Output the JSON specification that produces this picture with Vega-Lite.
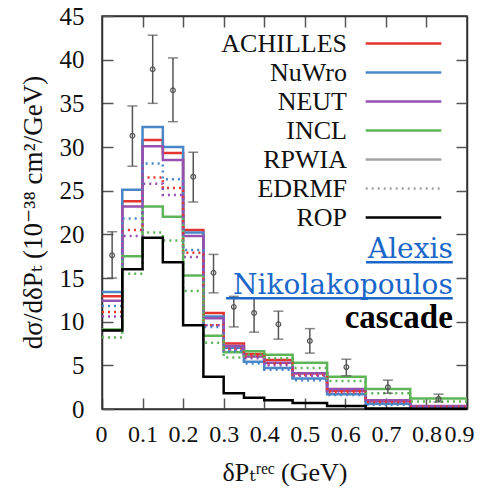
{
  "$schema": "https://vega.github.io/schema/vega-lite/v6.json",
  "width": 365,
  "height": 393,
  "autosize": "none",
  "padding": {"left": 102, "top": 16, "right": 14, "bottom": 87},
  "background": "white",
  "config": {
    "view": {"stroke": "#333", "strokeWidth": 1.5},
    "axis": {
      "grid": false,
      "domainColor": "#333",
      "domainWidth": 1.5,
      "tickColor": "#555",
      "tickWidth": 1.5,
      "tickSize": -11,
      "labelFont": "'Liberation Serif', 'DejaVu Serif', serif",
      "labelFontSize": 25,
      "labelColor": "#111",
      "titleFont": "'Liberation Serif', 'DejaVu Serif', serif",
      "titleFontSize": 26,
      "titleFontWeight": "normal",
      "titleColor": "#111"
    }
  },
  "datasets": {
    "h": [
      {"m": "ACHILLES", "d": "solid", "x": 0, "y": 12.9},
      {"m": "ACHILLES", "d": "solid", "x": 0.05, "y": 23.8},
      {"m": "ACHILLES", "d": "solid", "x": 0.1, "y": 30.8},
      {"m": "ACHILLES", "d": "solid", "x": 0.15, "y": 29.3},
      {"m": "ACHILLES", "d": "solid", "x": 0.2, "y": 20.5},
      {"m": "ACHILLES", "d": "solid", "x": 0.25, "y": 11.0},
      {"m": "ACHILLES", "d": "solid", "x": 0.3, "y": 7.5},
      {"m": "ACHILLES", "d": "solid", "x": 0.35, "y": 6.3},
      {"m": "ACHILLES", "d": "solid", "x": 0.4, "y": 5.6},
      {"m": "ACHILLES", "d": "solid", "x": 0.47, "y": 4.1},
      {"m": "ACHILLES", "d": "solid", "x": 0.555, "y": 2.1},
      {"m": "ACHILLES", "d": "solid", "x": 0.65, "y": 0.9},
      {"m": "ACHILLES", "d": "solid", "x": 0.76, "y": 0.3},
      {"m": "ACHILLES", "d": "solid", "x": 0.9, "y": 0.3},

      {"m": "NuWro", "d": "solid", "x": 0, "y": 13.4},
      {"m": "NuWro", "d": "solid", "x": 0.05, "y": 25.1},
      {"m": "NuWro", "d": "solid", "x": 0.1, "y": 32.3},
      {"m": "NuWro", "d": "solid", "x": 0.15, "y": 30.0},
      {"m": "NuWro", "d": "solid", "x": 0.2, "y": 20.2},
      {"m": "NuWro", "d": "solid", "x": 0.25, "y": 10.6},
      {"m": "NuWro", "d": "solid", "x": 0.3, "y": 7.0},
      {"m": "NuWro", "d": "solid", "x": 0.35, "y": 5.4},
      {"m": "NuWro", "d": "solid", "x": 0.4, "y": 4.7},
      {"m": "NuWro", "d": "solid", "x": 0.47, "y": 3.5},
      {"m": "NuWro", "d": "solid", "x": 0.555, "y": 1.7},
      {"m": "NuWro", "d": "solid", "x": 0.65, "y": 0.6},
      {"m": "NuWro", "d": "solid", "x": 0.76, "y": 0.2},
      {"m": "NuWro", "d": "solid", "x": 0.9, "y": 0.2},

      {"m": "NEUT", "d": "solid", "x": 0, "y": 12.4},
      {"m": "NEUT", "d": "solid", "x": 0.05, "y": 23.2},
      {"m": "NEUT", "d": "solid", "x": 0.1, "y": 30.1},
      {"m": "NEUT", "d": "solid", "x": 0.15, "y": 28.5},
      {"m": "NEUT", "d": "solid", "x": 0.2, "y": 19.8},
      {"m": "NEUT", "d": "solid", "x": 0.25, "y": 10.4},
      {"m": "NEUT", "d": "solid", "x": 0.3, "y": 7.2},
      {"m": "NEUT", "d": "solid", "x": 0.35, "y": 6.0},
      {"m": "NEUT", "d": "solid", "x": 0.4, "y": 5.3},
      {"m": "NEUT", "d": "solid", "x": 0.47, "y": 4.1},
      {"m": "NEUT", "d": "solid", "x": 0.555, "y": 2.3},
      {"m": "NEUT", "d": "solid", "x": 0.65, "y": 1.0},
      {"m": "NEUT", "d": "solid", "x": 0.76, "y": 0.35},
      {"m": "NEUT", "d": "solid", "x": 0.9, "y": 0.35},

      {"m": "INCL", "d": "solid", "x": 0, "y": 9.1},
      {"m": "INCL", "d": "solid", "x": 0.05, "y": 17.5},
      {"m": "INCL", "d": "solid", "x": 0.1, "y": 23.2},
      {"m": "INCL", "d": "solid", "x": 0.15, "y": 22.0},
      {"m": "INCL", "d": "solid", "x": 0.2, "y": 15.3},
      {"m": "INCL", "d": "solid", "x": 0.25, "y": 8.4},
      {"m": "INCL", "d": "solid", "x": 0.3, "y": 6.5},
      {"m": "INCL", "d": "solid", "x": 0.35, "y": 6.6},
      {"m": "INCL", "d": "solid", "x": 0.4, "y": 6.2},
      {"m": "INCL", "d": "solid", "x": 0.47, "y": 5.3},
      {"m": "INCL", "d": "solid", "x": 0.555, "y": 3.7},
      {"m": "INCL", "d": "solid", "x": 0.65, "y": 2.3},
      {"m": "INCL", "d": "solid", "x": 0.76, "y": 1.2},
      {"m": "INCL", "d": "solid", "x": 0.9, "y": 1.2},

      {"m": "ACHILLES", "d": "dotted", "x": 0, "y": 11.1},
      {"m": "ACHILLES", "d": "dotted", "x": 0.05, "y": 20.5},
      {"m": "ACHILLES", "d": "dotted", "x": 0.1, "y": 26.5},
      {"m": "ACHILLES", "d": "dotted", "x": 0.15, "y": 25.3},
      {"m": "ACHILLES", "d": "dotted", "x": 0.2, "y": 17.9},
      {"m": "ACHILLES", "d": "dotted", "x": 0.25, "y": 9.6},
      {"m": "ACHILLES", "d": "dotted", "x": 0.3, "y": 6.9},
      {"m": "ACHILLES", "d": "dotted", "x": 0.35, "y": 6.0},
      {"m": "ACHILLES", "d": "dotted", "x": 0.4, "y": 5.2},
      {"m": "ACHILLES", "d": "dotted", "x": 0.47, "y": 3.9},
      {"m": "ACHILLES", "d": "dotted", "x": 0.555, "y": 1.9},
      {"m": "ACHILLES", "d": "dotted", "x": 0.65, "y": 0.8},
      {"m": "ACHILLES", "d": "dotted", "x": 0.76, "y": 0.25},
      {"m": "ACHILLES", "d": "dotted", "x": 0.9, "y": 0.25},

      {"m": "NuWro", "d": "dotted", "x": 0, "y": 11.8},
      {"m": "NuWro", "d": "dotted", "x": 0.05, "y": 21.8},
      {"m": "NuWro", "d": "dotted", "x": 0.1, "y": 28.1},
      {"m": "NuWro", "d": "dotted", "x": 0.15, "y": 26.3},
      {"m": "NuWro", "d": "dotted", "x": 0.2, "y": 18.2},
      {"m": "NuWro", "d": "dotted", "x": 0.25, "y": 9.4},
      {"m": "NuWro", "d": "dotted", "x": 0.3, "y": 6.6},
      {"m": "NuWro", "d": "dotted", "x": 0.35, "y": 5.2},
      {"m": "NuWro", "d": "dotted", "x": 0.4, "y": 4.5},
      {"m": "NuWro", "d": "dotted", "x": 0.47, "y": 3.3},
      {"m": "NuWro", "d": "dotted", "x": 0.555, "y": 1.6},
      {"m": "NuWro", "d": "dotted", "x": 0.65, "y": 0.5},
      {"m": "NuWro", "d": "dotted", "x": 0.76, "y": 0.15},
      {"m": "NuWro", "d": "dotted", "x": 0.9, "y": 0.15},

      {"m": "NEUT", "d": "dotted", "x": 0, "y": 10.6},
      {"m": "NEUT", "d": "dotted", "x": 0.05, "y": 19.8},
      {"m": "NEUT", "d": "dotted", "x": 0.1, "y": 25.8},
      {"m": "NEUT", "d": "dotted", "x": 0.15, "y": 24.5},
      {"m": "NEUT", "d": "dotted", "x": 0.2, "y": 17.4},
      {"m": "NEUT", "d": "dotted", "x": 0.25, "y": 9.6},
      {"m": "NEUT", "d": "dotted", "x": 0.3, "y": 6.8},
      {"m": "NEUT", "d": "dotted", "x": 0.35, "y": 5.8},
      {"m": "NEUT", "d": "dotted", "x": 0.4, "y": 5.0},
      {"m": "NEUT", "d": "dotted", "x": 0.47, "y": 3.8},
      {"m": "NEUT", "d": "dotted", "x": 0.555, "y": 2.0},
      {"m": "NEUT", "d": "dotted", "x": 0.65, "y": 0.85},
      {"m": "NEUT", "d": "dotted", "x": 0.76, "y": 0.3},
      {"m": "NEUT", "d": "dotted", "x": 0.9, "y": 0.3},

      {"m": "INCL", "d": "dotted", "x": 0, "y": 8.2},
      {"m": "INCL", "d": "dotted", "x": 0.05, "y": 15.5},
      {"m": "INCL", "d": "dotted", "x": 0.1, "y": 20.2},
      {"m": "INCL", "d": "dotted", "x": 0.15, "y": 19.3},
      {"m": "INCL", "d": "dotted", "x": 0.2, "y": 13.5},
      {"m": "INCL", "d": "dotted", "x": 0.25, "y": 7.6},
      {"m": "INCL", "d": "dotted", "x": 0.3, "y": 5.9},
      {"m": "INCL", "d": "dotted", "x": 0.35, "y": 6.2},
      {"m": "INCL", "d": "dotted", "x": 0.4, "y": 5.8},
      {"m": "INCL", "d": "dotted", "x": 0.47, "y": 4.7},
      {"m": "INCL", "d": "dotted", "x": 0.555, "y": 3.2},
      {"m": "INCL", "d": "dotted", "x": 0.65, "y": 1.8},
      {"m": "INCL", "d": "dotted", "x": 0.76, "y": 0.85},
      {"m": "INCL", "d": "dotted", "x": 0.9, "y": 0.85},

      {"m": "ROP", "d": "solid", "x": 0, "y": 9.0},
      {"m": "ROP", "d": "solid", "x": 0.05, "y": 16.0},
      {"m": "ROP", "d": "solid", "x": 0.1, "y": 19.6},
      {"m": "ROP", "d": "solid", "x": 0.15, "y": 16.8},
      {"m": "ROP", "d": "solid", "x": 0.2, "y": 9.6},
      {"m": "ROP", "d": "solid", "x": 0.25, "y": 3.7},
      {"m": "ROP", "d": "solid", "x": 0.3, "y": 1.8},
      {"m": "ROP", "d": "solid", "x": 0.35, "y": 1.3},
      {"m": "ROP", "d": "solid", "x": 0.4, "y": 1.0},
      {"m": "ROP", "d": "solid", "x": 0.47, "y": 0.7},
      {"m": "ROP", "d": "solid", "x": 0.555, "y": 0.35},
      {"m": "ROP", "d": "solid", "x": 0.65, "y": 0.05},
      {"m": "ROP", "d": "solid", "x": 0.76, "y": 0.02},
      {"m": "ROP", "d": "solid", "x": 0.9, "y": 0.02}
    ],
    "p": [
      {"x": 0.025, "y": 17.6, "lo": 15.0, "hi": 20.3},
      {"x": 0.075, "y": 31.3, "lo": 27.8, "hi": 34.7},
      {"x": 0.125, "y": 38.9, "lo": 35.0, "hi": 42.8},
      {"x": 0.175, "y": 36.5, "lo": 32.9, "hi": 40.2},
      {"x": 0.225, "y": 26.6, "lo": 23.7, "hi": 29.4},
      {"x": 0.275, "y": 15.6, "lo": 13.3, "hi": 17.7},
      {"x": 0.325, "y": 11.7, "lo": 9.4, "hi": 12.9},
      {"x": 0.375, "y": 11.0, "lo": 8.8, "hi": 12.7},
      {"x": 0.435, "y": 9.7, "lo": 8.0, "hi": 11.2},
      {"x": 0.5125, "y": 7.8, "lo": 6.4, "hi": 9.2},
      {"x": 0.6025, "y": 4.8, "lo": 3.8, "hi": 5.7},
      {"x": 0.705, "y": 2.5, "lo": 1.8, "hi": 3.3},
      {"x": 0.83, "y": 1.15, "lo": 0.8, "hi": 1.7}
    ]
  },
  "layer": [
    {
      "data": {"name": "h"},
      "mark": {"type": "line", "interpolate": "step-after", "strokeWidth": 2.5},
      "encoding": {
        "x": {
          "field": "x", "type": "quantitative",
          "scale": {"domain": [0, 0.9], "nice": false},
          "axis": {
            "values": [0, 0.1, 0.2, 0.3, 0.4, 0.5, 0.6, 0.7, 0.8, 0.9],
            "format": ".1~f",
            "labelFontSize": 24,
            "labelPadding": 24,
            "labelFlush": true,
            "labelFlushOffset": 7,
            "labelOverlap": false,
            "title": "δPₜʳᵉᶜ (GeV)",
            "titlePadding": 13
          }
        },
        "y": {
          "field": "y", "type": "quantitative",
          "scale": {"domain": [0, 45], "nice": false},
          "axis": {
            "values": [0, 5, 10, 15, 20, 25, 30, 35, 40, 45],
            "labelPadding": 29,
            "labelOverlap": false,
            "title": "dσ/dδPₜ (10⁻³⁸ cm²/GeV)",
            "titleFontSize": 27,
            "titleY": 196,
            "titlePadding": 12
          }
        },
        "color": {
          "field": "m", "type": "nominal",
          "scale": {
            "domain": ["ACHILLES", "NuWro", "NEUT", "INCL", "RPWIA", "EDRMF", "ROP"],
            "range": ["#e3342f", "#4a87c7", "#9550b0", "#5db558", "#a3a3a3", "#a3a3a3", "#000000"]
          },
          "legend": {
            "orient": "none",
            "legendX": 286,
            "legendY": 12,
            "title": null,
            "symbolType": "M-2.7,0H2.7",
            "symbolSize": 784,
            "symbolStrokeWidth": 2.5,
            "labelFont": "'Liberation Serif', 'DejaVu Serif', serif",
            "labelFontSize": 26,
            "labelColor": "#111",
            "labelAlign": "right",
            "labelOffset": -72,
            "rowPadding": 0,
            "labelLimit": 300,
            "encode": {
              "symbols": {
                "update": {
                  "strokeDash": {"signal": "datum.value === 'EDRMF' ? [2, 4] : [1, 0]"}
                }
              }
            }
          }
        },
        "strokeDash": {
          "field": "d", "type": "nominal",
          "scale": {"domain": ["solid", "dotted"], "range": [[1, 0], [2, 4]]},
          "legend": null
        }
      }
    },
    {
      "data": {"name": "p"},
      "mark": {"type": "errorbar", "ticks": true, "size": 10, "thickness": 1.5, "color": "#555"},
      "encoding": {
        "x": {
          "field": "x", "type": "quantitative",
          "scale": {"domain": [0, 0.9], "nice": false},
          "axis": {"orient": "top", "labels": false, "title": null, "values": [0.1, 0.2, 0.3, 0.4, 0.5, 0.6, 0.7, 0.8]}
        },
        "y": {
          "field": "lo", "type": "quantitative",
          "scale": {"domain": [0, 45], "nice": false},
          "axis": {"orient": "right", "labels": false, "title": null, "values": [5, 10, 15, 20, 25, 30, 35, 40]}
        },
        "y2": {"field": "hi"}
      }
    },
    {
      "data": {"name": "p"},
      "mark": {"type": "point", "filled": false, "size": 22, "color": "#555", "strokeWidth": 1.2, "opacity": 1},
      "encoding": {
        "x": {"field": "x", "type": "quantitative", "scale": {"domain": [0, 0.9], "nice": false}, "axis": null},
        "y": {"field": "y", "type": "quantitative", "scale": {"domain": [0, 45], "nice": false}, "axis": null}
      }
    },
    {
      "data": {"values": [
        {"t": "Alexis", "x": 0.865, "y": 17.25},
        {"t": "Nikolakopoulos", "x": 0.865, "y": 13.17}
      ]},
      "mark": {"type": "text", "align": "right", "baseline": "alphabetic", "font": "'DejaVu Serif', 'Liberation Serif', serif", "fontSize": 28, "color": "#1a66c9"},
      "encoding": {
        "x": {"field": "x", "type": "quantitative", "scale": {"domain": [0, 0.9], "nice": false}, "axis": null},
        "y": {"field": "y", "type": "quantitative", "scale": {"domain": [0, 45], "nice": false}, "axis": null},
        "text": {"field": "t"}
      }
    },
    {
      "data": {"values": [
        {"x1": 0.651, "x2": 0.865, "y": 16.8},
        {"x1": 0.306, "x2": 0.865, "y": 12.68}
      ]},
      "mark": {"type": "rule", "color": "#1a66c9", "strokeWidth": 2.5},
      "encoding": {
        "x": {"field": "x1", "type": "quantitative", "scale": {"domain": [0, 0.9], "nice": false}, "axis": null},
        "x2": {"field": "x2"},
        "y": {"field": "y", "type": "quantitative", "scale": {"domain": [0, 45], "nice": false}, "axis": null}
      }
    },
    {
      "data": {"values": [
        {"t": "cascade", "x": 0.865, "y": 9.24}
      ]},
      "mark": {"type": "text", "align": "right", "baseline": "alphabetic", "font": "'Liberation Serif', 'DejaVu Serif', serif", "fontSize": 33, "fontWeight": "bold", "color": "#000"},
      "encoding": {
        "x": {"field": "x", "type": "quantitative", "scale": {"domain": [0, 0.9], "nice": false}, "axis": null},
        "y": {"field": "y", "type": "quantitative", "scale": {"domain": [0, 45], "nice": false}, "axis": null},
        "text": {"field": "t"}
      }
    }
  ],
  "resolve": {"axis": {"x": "independent", "y": "independent"}}
}
